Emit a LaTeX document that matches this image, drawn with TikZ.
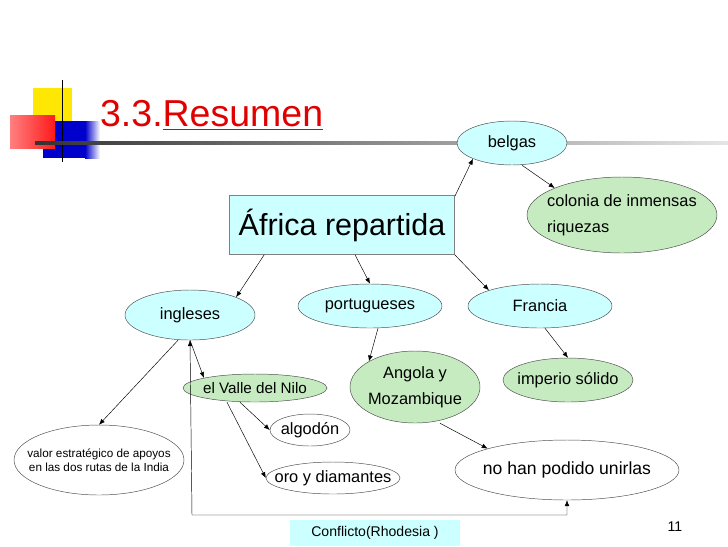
\documentclass[tikz,border=0pt]{standalone}
\usepackage{fontspec}
\setmainfont{Liberation Sans}
\usepackage{xcolor}
\usetikzlibrary{arrows.meta, shapes.geometric, positioning}
\definecolor{paleCyan}{HTML}{CCFFFF}
\definecolor{paleGreen}{HTML}{C6EBC0}
\definecolor{titleRed}{HTML}{E00000}
\tikzset{
    topic/.style={ellipse, draw=black!70, fill=paleCyan, inner sep=0pt},
    fact/.style={ellipse, draw=black!70, fill=paleGreen, inner sep=0pt},
    note/.style={ellipse, draw=black!70, fill=white, inner sep=0pt},
    txt/.style={align=center, font=\fontsize{14}{16}\selectfont},
    arrow/.style={-{Latex[length=5pt,width=4pt]}, black}
}
\begin{document}
\begin{tikzpicture}[x=0.03cm, y=-0.03cm]
        \useasboundingbox (0,0) rectangle (728,546);
        % Logo
        \fill[yellow!90!orange] (33,88) rectangle (72,122);
        \fill[blue!80!black] (43,121) rectangle (85,158);
        \shade[left color=blue!80!black, right color=white] (85,121) rectangle (100,158);
        \shade[left color=red!50, right color=red!90] (10,115) rectangle (55,148);
        \draw[thick] (62,80) -- (62,162);
        \shade[left color=black!80, right color=black!10] (35,141) rectangle (728,144);
        \node[anchor=west, text=titleRed, font=\fontsize{32}{36}\selectfont] (title) at (96,115) {3.3.\underline{Resumen}};

        % Nodes
        \node[draw=black!50, fill=paleCyan, minimum width=225*0.03cm, minimum height=59*0.03cm, font=\fontsize{26}{30}\selectfont] (Africa) at (342,225) {África repartida};
        \node[topic, minimum width=110*0.03cm, minimum height=44*0.03cm, label={[txt]center:belgas}] (belgas) at (512,143) {};
        \node[fact, minimum width=190*0.03cm, minimum height=76*0.03cm, label={[txt, align=left]center:colonia de inmensas\\[6pt]riquezas}] (colonia) at (622,215) {};
        \node[topic, minimum width=130*0.03cm, minimum height=50*0.03cm, label={[txt]center:ingleses}] (ingleses) at (190,315) {};
        \node[topic, minimum width=144*0.03cm, minimum height=44*0.03cm, label={[txt]center:portugueses}] (portug) at (370,306) {};
        \node[topic, minimum width=144*0.03cm, minimum height=44*0.03cm, label={[txt]center:Francia}] (Francia) at (540,306) {};
        \node[fact, minimum width=144*0.03cm, minimum height=28*0.03cm, label={[txt, font=\fontsize{13}{15}\selectfont]center:el Valle del Nilo}] (Nilo) at (255,388) {};
        \node[fact, minimum width=130*0.03cm, minimum height=72*0.03cm, label={[txt]center:Angola y\\[6pt]Mozambique}] (Angola) at (415,387) {};
        \node[fact, minimum width=130*0.03cm, minimum height=44*0.03cm, label={[txt]center:imperio sólido}] (imperio) at (568,380) {};
        \node[note, minimum width=80*0.03cm, minimum height=32*0.03cm, label={[txt]center:algodón}] (algodon) at (310,430) {};
        \node[note, minimum width=134*0.03cm, minimum height=32*0.03cm, label={[txt]center:oro y diamantes}] (oro) at (333,478) {};
        \node[note, minimum width=170*0.03cm, minimum height=70*0.03cm, label={[txt, font=\fontsize{10}{12}\selectfont]center:valor estratégico de apoyos\\en las dos rutas de la India}] (valor) at (99,460) {};
        \node[note, minimum width=224*0.03cm, minimum height=60*0.03cm, label={[txt, font=\fontsize{15}{17}\selectfont]center:no han podido unirlas}] (unirlas) at (567,470) {};
        \node[fill=paleCyan, minimum width=170*0.03cm, minimum height=26*0.03cm, font=\fontsize{12}{14}\selectfont] (conflicto) at (375,533) {Conflicto(Rhodesia )};
        \node[font=\fontsize{12}{14}\selectfont] (page) at (675,527) {11};

        % Links
        \coordinate (c1) at (567,515);
        \coordinate (c2) at (192,515);
        \draw[arrow] (455,196) -- (belgas.south west);
        \draw[arrow] (belgas.south) ++(10,0) -- (colonia.north west);
        \draw[arrow] (Africa.south west) ++(35,0) -- (ingleses.north east);
        \draw[arrow] (Africa.south) ++(13,0) -- (portug.north);
        \draw[arrow] (Africa.south east) -- (Francia.north west);
        \draw[arrow] (ingleses.south) ++(-12,0) -- (valor.north);
        \draw[arrow] (ingleses.south) -- (Nilo.north west);
        \draw[arrow] (portug.south) ++(8,0) -- (Angola.north west);
        \draw[arrow] (Francia.south) ++(5,0) -- (imperio.north);
        \draw[arrow] (Nilo.south) ++(-15,0) -- (algodon.west);
        \draw[arrow] (Nilo.south) ++(-28,0) -- (oro.west);
        \draw[arrow] (Angola.south) ++(25,0) -- (unirlas.north west);
        \draw[{Latex[length=5pt,width=4pt]}-{Latex[length=5pt,width=4pt]}] (ingleses.south) -- (c2) -- (c1) -- (unirlas.south);
\end{tikzpicture}
\end{document}
